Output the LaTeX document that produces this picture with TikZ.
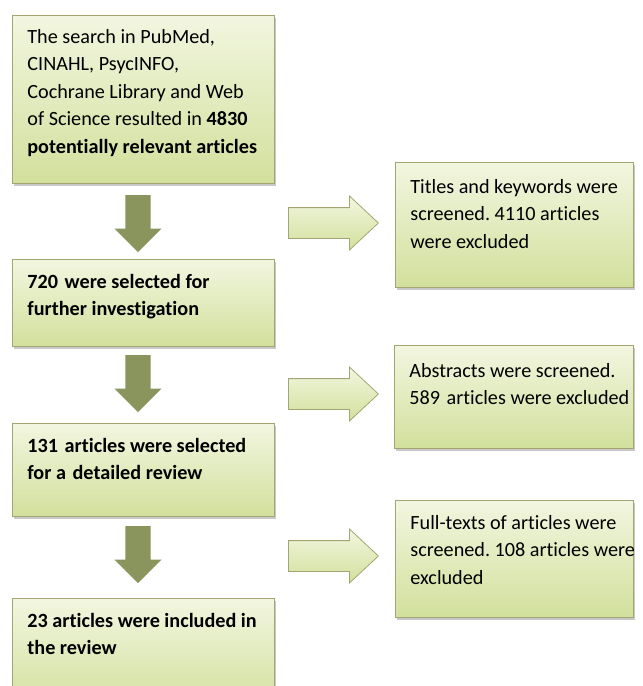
\documentclass[tikz,border=0pt]{standalone}
\usepackage{fontspec}
\setmainfont[Ligatures=CommonOff]{Carlito}
\usetikzlibrary{shapes.arrows,shadows}

\definecolor{olivearrow}{RGB}{138,149,94}
\definecolor{boxtop}{RGB}{242,246,224}
\definecolor{boxbot}{RGB}{210,224,156}
\definecolor{boxline}{RGB}{165,165,115}

\newcommand\boxtext[4]{\parbox[c][#1][t]{#2}{\frenchspacing\leftskip=15pt\rightskip=0pt plus 1fil\parindent=0pt\hfuzz=20pt\rule{0pt}{#3}#4}}
\newcommand\wsp{\ \hspace{2pt}}

\tikzset{
  flowbox/.style={draw=boxline, line width=0.8pt, top color=boxtop, bottom color=boxbot,
    inner sep=0pt, anchor=north west,
    font=\fontsize{20.2}{27.5}\selectfont,
    drop shadow={shadow xshift=2pt,shadow yshift=-3pt,opacity=0.35,fill=black!60}},
  downarrow/.style={single arrow, fill=olivearrow, draw=none, rotate=-90, anchor=west,
    minimum width=47pt, minimum height=57pt, single arrow head extend=11pt,
    inner xsep=0pt, inner ysep=12.5pt, single arrow tip angle=90},
  rightarrow/.style={single arrow, draw=boxline, line width=0.8pt, top color=boxtop, bottom color=boxbot,
    anchor=west, minimum width=53pt, minimum height=90pt, single arrow head extend=11.5pt,
    inner xsep=0pt, inner ysep=15pt, single arrow tip angle=86},
}

\begin{document}
\begin{tikzpicture}[x=1pt,y=-1pt]
\useasboundingbox (0,0) rectangle (643,686);
\clip (0,0) rectangle (643,686);
\fill[white] (0,0) rectangle (643,686);

% left column
\node[flowbox] (b1) at (12,15) {\boxtext{168pt}{262pt}{28pt}{\mbox{The search in PubMed,}\\ \mbox{CINAHL, PsycINFO,}\\ \mbox{Cochrane Library and Web}\\ \mbox{of Science resulted in \textbf{4830}}\\ \mbox{\textbf{potentially relevant articles}}}};
\node[flowbox] (b2) at (12,259) {\boxtext{87pt}{262pt}{29pt}{\mbox{\textbf{720\wsp were selected for}}\\ \mbox{\textbf{further investigation}}}};
\node[flowbox] (b3) at (12,423) {\boxtext{93pt}{262pt}{29pt}{\mbox{\textbf{131\wsp articles were selected}}\\ \mbox{\textbf{for a\wsp detailed review}}}};
\node[flowbox] (b4) at (12,598) {\boxtext{110pt}{262pt}{29pt}{\mbox{\textbf{23 articles were included in}}\\ \mbox{\textbf{the review}}}};

% right column
\node[flowbox] (r1) at (395,162) {\boxtext{125pt}{238pt}{31pt}{\mbox{Titles and keywords were}\\ \mbox{screened. 4110 articles}\\ \mbox{were excluded}}};
\node[flowbox] (r2) at (394,345) {\boxtext{103pt}{239pt}{32pt}{\mbox{Abstracts were screened.}\\ \mbox{589\wsp articles were excluded}}};
\node[flowbox] (r3) at (395,500) {\boxtext{117pt}{238pt}{29pt}{\mbox{Full-texts of articles were}\\ \mbox{screened. 108 articles were}\\ \mbox{excluded}}};

% down arrows
\node[downarrow] (d1) at (138,195) {};
\node[downarrow] (d2) at (138,355) {};
\node[downarrow] (d3) at (138,526) {};

% right arrows
\node[rightarrow] (e1) at (288,223) {};
\node[rightarrow] (e2) at (288,394) {};
\node[rightarrow] (e3) at (288,556) {};
\end{tikzpicture}
\end{document}
